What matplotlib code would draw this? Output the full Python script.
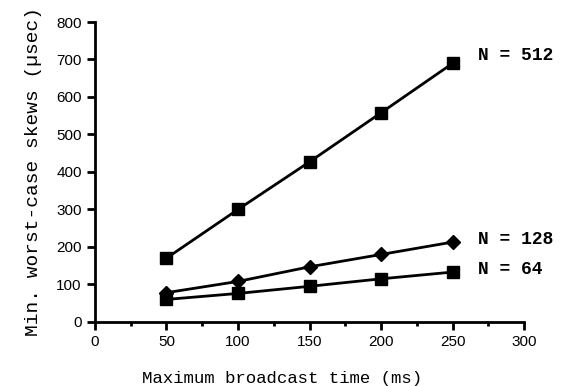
import matplotlib
matplotlib.use('Agg')
import matplotlib.pyplot as plt

broadcast_ms = [50, 100, 150, 200, 250]
skew_512 = [170, 300, 427, 558, 690]
skew_128 = [78, 108, 147, 180, 213]
skew_64 = [60, 76, 95, 115, 133]

fig = plt.figure(figsize=(5.68, 3.86), dpi=100)
ax = fig.add_axes([0.167, 0.166, 0.756, 0.777])

ax.plot(broadcast_ms, skew_512, color='black', lw=2, marker='s', ms=9)
ax.plot(broadcast_ms, skew_128, color='black', lw=2, marker='D', ms=7)
ax.plot(broadcast_ms, skew_64, color='black', lw=2, marker='s', ms=9)

lab_font = dict(family='Liberation Mono', fontweight='bold', fontsize=13)
ax.text(268, 710, 'N = 512', va='center', **lab_font)
ax.text(268, 221, 'N = 128', va='center', **lab_font)
ax.text(268, 139, 'N = 64', va='center', **lab_font)

ax.set_xlim(0, 300)
ax.set_ylim(0, 800)
ax.set_xticks(range(0, 301, 50))
ax.set_xticks(range(25, 300, 50), minor=True)
ax.set_yticks(range(0, 801, 100))
for s in ['top', 'right']:
    ax.spines[s].set_visible(False)
for s in ['left', 'bottom']:
    ax.spines[s].set_linewidth(2)
ax.tick_params(axis='both', which='major', width=2, length=6, labelsize=11)
ax.tick_params(axis='x', which='minor', width=2, length=3)
for t in ax.get_xticklabels() + ax.get_yticklabels():
    t.set_family('Liberation Sans')

ax.set_xlabel('Maximum broadcast time (ms)', family='Liberation Mono', fontsize=12.5)
ax.xaxis.set_label_coords(0.436, -0.163)
ax.set_ylabel('Min. worst-case skews (µsec)', family='Liberation Mono', fontsize=14, labelpad=10)

fig.savefig('out.png', dpi=100)
